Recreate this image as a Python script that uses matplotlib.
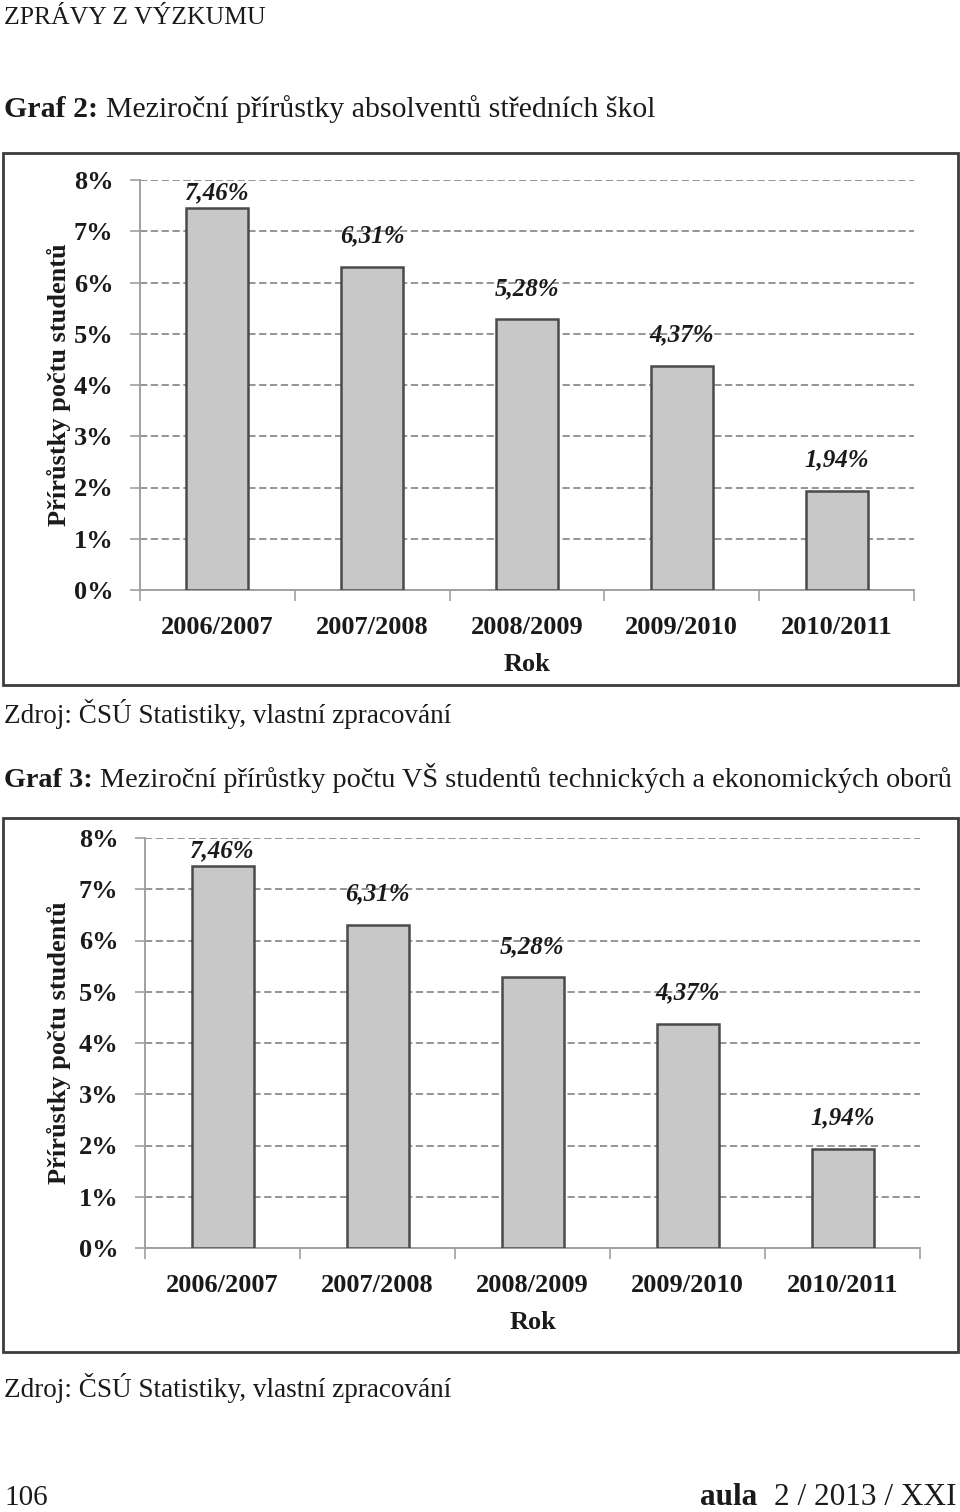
import matplotlib.pyplot as plt
import matplotlib.patches as patches
import numpy as np

# data
roky = ['2006/2007', '2007/2008', '2008/2009', '2009/2010', '2010/2011']
absolventi_ss = [7.46, 6.31, 5.28, 4.37, 1.94]      # Graf 2
vs_studenti = [7.46, 6.31, 5.28, 4.37, 1.94]        # Graf 3
y_ticks = [0, 1, 2, 3, 4, 5, 6, 7, 8]

W, H = 960, 1512
SERIF = ['Liberation Serif', 'DejaVu Serif']
plt.rcParams['font.family'] = SERIF

fig = plt.figure(figsize=(W / 100, H / 100), dpi=100)
TXT = '#1a1a1a'


def rect(left, top, right, bottom):
    # pixel coords -> figure fraction
    return [left / W, 1 - bottom / H, (right - left) / W, (bottom - top) / H]


def fx(x):
    return x / W


def fy(y):
    return 1 - y / H


def bar_chart(left, top, right, bottom, values, box):
    bx = patches.Rectangle((fx(box[0]), fy(box[3])), fx(box[2] - box[0]), (box[3] - box[1]) / H,
                           transform=fig.transFigure, fill=False, edgecolor='#3c3c3c', lw=2)
    fig.patches.append(bx)

    ax = fig.add_axes(rect(left, top, right, bottom))
    x = np.arange(len(values))
    ax.bar(x, values, width=0.4, color='#c8c8c8', edgecolor='#4a4a4a', linewidth=1.8, zorder=3)
    ax.set_xlim(-0.5, len(values) - 0.5)
    ax.set_ylim(0, 8)
    ax.set_yticks(y_ticks)
    ax.set_yticklabels([f'{t}%' for t in y_ticks], fontsize=19, fontweight='bold', color=TXT)
    ax.yaxis.grid(True, linestyle=(0, (4, 2)), color='#8c8c8c', linewidth=1.3, zorder=0)
    ax.set_axisbelow(True)
    ax.set_xticks(x)
    ax.set_xticklabels(roky, fontsize=19, fontweight='bold', color=TXT)
    ax.set_xticks(np.arange(-0.5, len(values), 1), minor=True)
    ax.tick_params(axis='x', which='major', length=0, pad=19)
    ax.tick_params(axis='x', which='minor', length=8, color='#a0a0a0', width=1.2, direction='out')
    ax.tick_params(axis='y', length=7, color='#a0a0a0', width=1.2, pad=12)
    for s in ['top', 'right']:
        ax.spines[s].set_visible(False)
    for s in ['left', 'bottom']:
        ax.spines[s].set_color('#a0a0a0')
        ax.spines[s].set_linewidth(1.4)
    for i, v in enumerate(values):
        ax.text(i, min(v + 0.6, 7.75), f'{v:.2f}%'.replace('.', ','), ha='center', va='center',
                fontsize=18, fontweight='bold', style='italic', color=TXT)
    ax.set_xlabel('Rok', fontsize=19, fontweight='bold', color=TXT, labelpad=10)
    fig.text(fx(59), fy((top + bottom) / 2), 'Přírůstky počtu studentů', rotation=90,
             ha='center', va='center', fontsize=19, fontweight='bold', color=TXT)
    return ax


def two_part(x, y, bold, regular, size, ha='left'):
    r = fig.canvas.get_renderer()
    t1 = fig.text(0, 0, bold, fontsize=size, fontweight='bold', color=TXT, va='baseline')
    t2 = fig.text(0, 0, regular, fontsize=size, color=TXT, va='baseline')
    w1 = t1.get_window_extent(r).width
    w2 = t2.get_window_extent(r).width
    x0 = x if ha == 'left' else x - w1 - w2
    t1.set_position((fx(x0), fy(y)))
    t2.set_position((fx(x0 + w1), fy(y)))


fig.text(fx(4), fy(24), 'ZPRÁVY Z VÝZKUMU', fontsize=18.5, va='baseline', color=TXT)
two_part(4, 117, 'Graf 2: ', 'Meziroční přírůstky absolventů středních škol', 21.5)

bar_chart(140, 180, 914, 590, absolventi_ss, (3, 153, 958, 685))
fig.text(fx(4), fy(723), 'Zdroj: ČSÚ Statistiky, vlastní zpracování', fontsize=19.5, va='baseline', color=TXT)

two_part(4, 787, 'Graf 3: ', 'Meziroční přírůstky počtu VŠ studentů technických a ekonomických oborů', 20.3)
bar_chart(145, 838, 920, 1248, vs_studenti, (3, 818, 958, 1352))
fig.text(fx(4), fy(1397), 'Zdroj: ČSÚ Statistiky, vlastní zpracování', fontsize=19.5, va='baseline', color=TXT)

fig.text(fx(4), fy(1505), '106', fontsize=21, va='baseline', color=TXT)
two_part(956, 1505, 'aula  ', '2 / 2013 / XXI', 22.5, ha='right')

fig.savefig('out.png', dpi=100)
